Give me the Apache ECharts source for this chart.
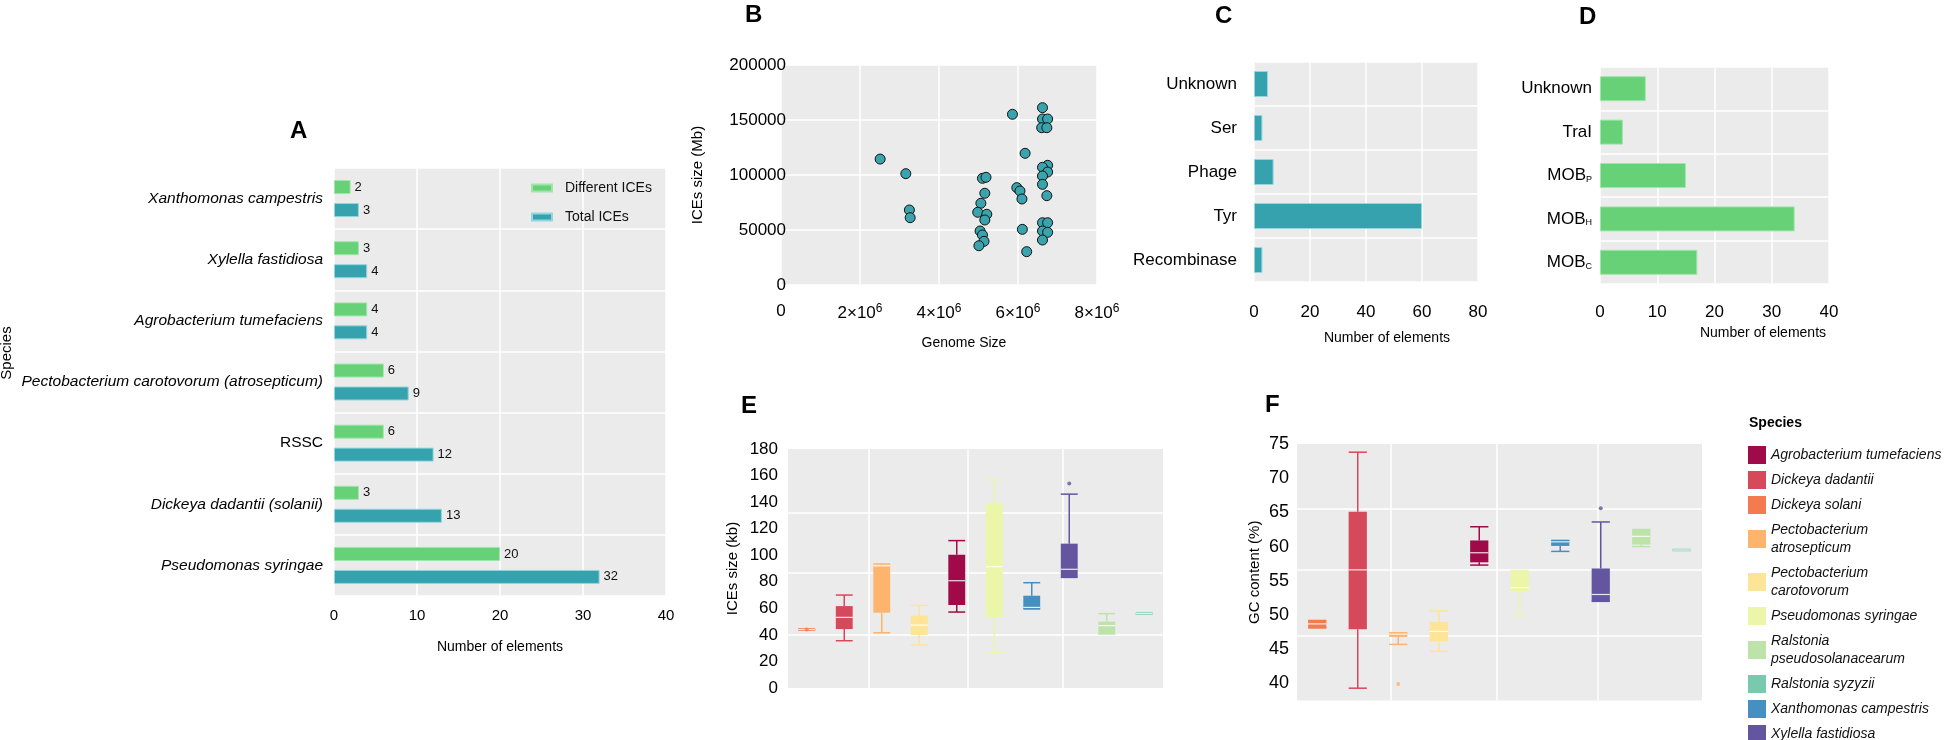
<!DOCTYPE html>
<html><head><meta charset="utf-8">
<script src="https://cdn.jsdelivr.net/npm/echarts@6/dist/echarts.min.js"></script>
<style>html,body{margin:0;padding:0;background:#fff}#c{width:1952px;height:740px}</style>
</head><body><div id="c"></div><script>
// ---------- Panel A ----------
const speciesA = ['Pseudomonas syringae', 'Dickeya dadantii (solanii)', 'RSSC',
  'Pectobacterium carotovorum (atrosepticum)', 'Agrobacterium tumefaciens',
  'Xylella fastidiosa', 'Xanthomonas campestris'];
const differentICEs = [20, 3, 6, 6, 4, 3, 2];
const totalICEs = [32, 13, 12, 9, 4, 4, 3];

// ---------- Panel B ----------
const genomeSize = [2.51e6, 3.16e6, 3.25e6, 3.27e6, 5.86e6, 6.62e6, 6.62e6, 6.75e6, 6.60e6, 6.73e6,
  6.18e6, 6.75e6, 6.62e6, 6.75e6, 6.62e6, 6.62e6, 6.73e6, 5.10e6, 5.19e6, 5.16e6,
  5.06e6, 4.98e6, 5.21e6, 5.16e6, 5.04e6, 5.10e6, 5.14e6, 5.01e6, 5.97e6, 6.05e6,
  6.10e6, 6.11e6, 6.22e6, 6.62e6, 6.75e6, 6.62e6, 6.75e6, 6.62e6];
const iceSizeB = [114500, 101200, 68200, 61200, 155200, 161200, 150900, 150900, 143000, 143000,
  119700, 108800, 107000, 102700, 99100, 91500, 81200, 97000, 97900, 83400,
  74300, 66100, 64300, 59100, 49100, 45500, 39700, 35700, 88500, 85500,
  78200, 50600, 30300, 56600, 56600, 49100, 47900, 40900];

// ---------- Panel C ----------
const integrases = ['Recombinase', 'Tyr', 'Phage', 'Ser', 'Unknown'];
const integraseCounts = [3, 60, 7, 3, 5];

// ---------- Panel D ----------
const relaxases = ['MOBC', 'MOBH', 'MOBP', 'TraI', 'Unknown'];
const relaxaseCounts = [17, 34, 15, 4, 8];

// ---------- Panels E / F ----------
const species = ['Agrobacterium tumefaciens', 'Dickeya dadantii', 'Dickeya solani',
  'Pectobacterium atrosepticum', 'Pectobacterium carotovorum', 'Pseudomonas syringae',
  'Ralstonia pseudosolanacearum', 'Ralstonia syzyzii', 'Xanthomonas campestris', 'Xylella fastidiosa'];
const speciesColors = ['#a00a48', '#d6495a', '#f47a50', '#fdb46c', '#fee496', '#ecf6a8',
  '#bde3aa', '#78c9ad', '#4590c0', '#63559f'];
const boxOrder = ['Dickeya solani', 'Dickeya dadantii', 'Pectobacterium atrosepticum',
  'Pectobacterium carotovorum', 'Agrobacterium tumefaciens', 'Pseudomonas syringae',
  'Xanthomonas campestris', 'Xylella fastidiosa', 'Ralstonia pseudosolanacearum', 'Ralstonia syzyzii'];
// [min, Q1, median, Q3, max] in boxOrder
const iceSizeStats = [
  [44, 44, 44, 44, 44], [35.6, 44.4, 53.2, 61.7, 70], [41.6, 56.7, 92, 92.5, 93.4],
  [32.4, 39.9, 47.4, 54.5, 62.2], [57.2, 62.5, 80.8, 100.4, 111], [26.6, 53.2, 91.4, 139, 157],
  [59.5, 59.5, 60.7, 69.5, 79.3], [83.3, 83.3, 89.4, 108.7, 146], [40.7, 40.7, 47, 50, 56],
  [56, 56, 56, 56, 56]];
const iceSizeOutliers = [[0, 44], [7, 154]];
const gcStats = [
  [48.1, 48.1, 48.7, 49.2, 49.2], [39.3, 47.9, 56.6, 65.1, 73.8], [45.7, 46.8, 47.2, 47.4, 47.4],
  [44.7, 46.1, 47.6, 49.0, 50.6], [57.3, 57.7, 59.1, 60.9, 62.9], [49.9, 53.5, 54.0, 56.5, 56.5],
  [59.3, 60.1, 60.7, 60.9, 60.9], [52.0, 52.0, 53.0, 56.8, 63.6], [60.0, 60.3, 61.5, 62.5, 62.5],
  [59.5, 59.5, 59.5, 59.5, 59.5]];
const gcOutliers = [[2, 39.9], [7, 65.6]];
// background grid-line positions as drawn in the reference
const gridLinesE = { y: [40, 87, 132], x: [2.16, 4.8, 7.33] };
const gridLinesF = { y: [47, 56.6, 65.6], x: [2.32, 4.94, 7.43] };

// ---------- styles ----------
const SANS = "'Liberation Sans', Arial, sans-serif";
const GREEN = '#66d176', TEAL = '#35a2ae';
const BOX_W = 0.45;
const noLine = { axisLine: { show: false }, axisTick: { show: false } };
const whiteSplit = { show: true, lineStyle: { color: '#ffffff', width: 1.5 } };

const chart = echarts.init(document.getElementById('c'), null, { renderer: 'canvas' });

const grids = [
  { left: 334, top: 168, width: 332, height: 428 },
  { left: 781, top: 65, width: 316, height: 220 },
  { left: 1254, top: 62, width: 224, height: 220 },
  { left: 1600, top: 67, width: 229, height: 217 },
  { left: 788, top: 449, width: 375, height: 239 },
  { left: 1297, top: 444, width: 405, height: 256.5 }
].map(g => Object.assign({ show: true, backgroundColor: '#ebebeb', borderWidth: 0,
  containLabel: false, outerBoundsMode: 'none' }, g));

function boxRender(params, api) {
  const x = api.value(0);
  const c = api.visual('color');
  const p = k => api.coord([x, api.value(k)]);
  const pMin = p(1), pQ1 = p(2), pMed = p(3), pQ3 = p(4), pMax = p(5);
  const w = api.size([BOX_W, 0])[0];
  const cx = pMin[0], hw = w / 2;
  const st = { stroke: c, lineWidth: 1.5 };
  const ch = [];
  ch.push({ type: 'line', shape: { x1: cx, y1: pQ3[1], x2: cx, y2: pMax[1] }, style: st });
  ch.push({ type: 'line', shape: { x1: cx, y1: pQ1[1], x2: cx, y2: pMin[1] }, style: st });
  ch.push({ type: 'line', shape: { x1: cx - hw, y1: pMax[1], x2: cx + hw, y2: pMax[1] }, style: st });
  ch.push({ type: 'line', shape: { x1: cx - hw, y1: pMin[1], x2: cx + hw, y2: pMin[1] }, style: st });
  const h = Math.max(pQ1[1] - pQ3[1], 2.5);
  ch.push({ type: 'rect', shape: { x: cx - hw, y: pQ3[1] - (h - (pQ1[1] - pQ3[1])) / 2, width: w, height: h }, style: { fill: c } });
  ch.push({ type: 'line', shape: { x1: cx - hw, y1: pMed[1], x2: cx + hw, y2: pMed[1] }, style: { stroke: '#ffffff', lineWidth: 1.2, opacity: 0.85 } });
  return { type: 'group', children: ch };
}

const barLabel = { show: true, position: 'right', distance: 4, fontSize: 13, color: '#111' };
const series = [
  { type: 'bar', name: 'Different ICEs', xAxisIndex: 0, yAxisIndex: 0, data: differentICEs,
    barWidth: 14, barGap: '64%', itemStyle: { color: GREEN, borderColor: '#9fe6aa', borderWidth: 1 },
    label: barLabel },
  { type: 'bar', name: 'Total ICEs', xAxisIndex: 0, yAxisIndex: 0, data: totalICEs,
    barWidth: 14, itemStyle: { color: TEAL, borderColor: '#93d6de', borderWidth: 1 },
    label: barLabel },
  { type: 'scatter', xAxisIndex: 1, yAxisIndex: 1, symbolSize: 10,
    data: genomeSize.map((g, i) => [g, iceSizeB[i]]),
    itemStyle: { color: '#3aa4ae', borderColor: '#111', borderWidth: 1, opacity: 1 } },
  { type: 'bar', xAxisIndex: 2, yAxisIndex: 2, data: integraseCounts, barWidth: 26,
    itemStyle: { color: TEAL, borderColor: '#93d6de', borderWidth: 1 } },
  { type: 'bar', xAxisIndex: 3, yAxisIndex: 3, data: relaxaseCounts, barWidth: 25,
    itemStyle: { color: GREEN, borderColor: '#9fe6aa', borderWidth: 1 } }
];

function gridLineSeries(ax, gl) {
  return { type: 'line', xAxisIndex: ax, yAxisIndex: ax, data: [], silent: true, z: 1,
    markLine: { silent: true, symbol: 'none', z: 1, animation: false,
      lineStyle: { color: '#ffffff', width: 1.5, type: 'solid' }, label: { show: false },
      data: gl.y.map(v => ({ yAxis: v })).concat(gl.x.map(v => ({ xAxis: v }))) } };
}
series.push(gridLineSeries(4, gridLinesE));
series.push(gridLineSeries(5, gridLinesF));

function addBoxes(ax, stats, outliers) {
  boxOrder.forEach((s, i) => {
    const color = speciesColors[species.indexOf(s)];
    series.push({ type: 'custom', name: s, xAxisIndex: ax, yAxisIndex: ax, z: 3,
      renderItem: boxRender, itemStyle: { color: color },
      encode: { x: 0, y: [1, 2, 3, 4, 5] },
      data: [[i + 0.5].concat(stats[i])] });
    const outs = outliers.filter(o => o[0] === i);
    if (outs.length) {
      series.push({ type: 'scatter', name: s, xAxisIndex: ax, yAxisIndex: ax, z: 4, symbolSize: 4,
        itemStyle: { color: color }, data: outs.map(o => [o[0] + 0.5, o[1]]) });
    }
  });
}
addBoxes(4, iceSizeStats, iceSizeOutliers);
addBoxes(5, gcStats, gcOutliers);

const legendNames = {
  'Pectobacterium atrosepticum': 'Pectobacterium\natrosepticum',
  'Pectobacterium carotovorum': 'Pectobacterium\ncarotovorum',
  'Ralstonia pseudosolanacearum': 'Ralstonia\npseudosolanacearum'
};

const letter = (t, l, tp) => ({ text: t, left: l, top: tp, padding: 0,
  textStyle: { fontFamily: SANS, fontSize: 24, fontWeight: 'bold', color: '#000' } });

const option = {
  animation: false,
  backgroundColor: '#ffffff',
  textStyle: { fontFamily: SANS },
  title: [
    letter('A', 290, 119), letter('B', 745, 3), letter('C', 1215, 4), letter('D', 1579, 5),
    letter('E', 741, 394), letter('F', 1265, 393),
    { text: 'Species', left: 1749, top: 416, padding: 0,
      textStyle: { fontFamily: SANS, fontSize: 14, fontWeight: 'bold', color: '#000' } }
  ],
  legend: [
    { data: ['Different ICEs', 'Total ICEs'], orient: 'vertical', left: 531, top: 181, padding: 0,
      icon: 'rect', itemWidth: 20, itemHeight: 7, itemGap: 15, selectedMode: false,
      textStyle: { fontSize: 14, color: '#111', padding: [0, 0, 0, 8] } },
    { data: species, orient: 'vertical', left: 1748, top: 446, width: 200, height: 320, padding: 0, icon: 'rect',
      itemWidth: 18, itemHeight: 18, itemGap: 7, selectedMode: false,
      formatter: n => legendNames[n] || n,
      textStyle: { fontSize: 14, fontStyle: 'italic', color: '#111', lineHeight: 18 } }
  ],
  grid: grids,
  xAxis: [
    Object.assign({ gridIndex: 0, type: 'value', min: 0, max: 40, interval: 10,
      axisLabel: { fontSize: 15, color: '#000', margin: 12 },
      splitLine: whiteSplit, name: 'Number of elements', nameLocation: 'middle', nameGap: 44,
      nameTextStyle: { fontSize: 14, color: '#000' } }, noLine),
    Object.assign({ gridIndex: 1, type: 'value', min: 0, max: 8e6, interval: 2e6,
      axisLabel: { fontSize: 17, color: '#000', margin: 18,
        formatter: v => v === 0 ? '0' : (v / 1e6) + '×10{sup|6}',
        rich: { sup: { fontSize: 12, verticalAlign: 'top', padding: [0, 0, 8, 0], color: '#000' } } },
      splitLine: whiteSplit, name: 'Genome Size', nameLocation: 'middle', nameGap: 51,
      nameTextStyle: { fontSize: 14, color: '#000', padding: [0, 0, 0, 50] } }, noLine),
    Object.assign({ gridIndex: 2, type: 'value', min: 0, max: 80, interval: 20,
      axisLabel: { fontSize: 17, color: '#000', margin: 22 },
      splitLine: whiteSplit, name: 'Number of elements', nameLocation: 'middle', nameGap: 49,
      nameTextStyle: { fontSize: 14, color: '#000', padding: [0, 0, 0, 42] } }, noLine),
    Object.assign({ gridIndex: 3, type: 'value', min: 0, max: 40, interval: 10,
      axisLabel: { fontSize: 17, color: '#000', margin: 20 },
      splitLine: whiteSplit, name: 'Number of elements', nameLocation: 'middle', nameGap: 42,
      nameTextStyle: { fontSize: 14, color: '#000', padding: [0, 0, 0, 97] } }, noLine),
    { gridIndex: 4, type: 'value', min: 0, max: 10, show: false },
    { gridIndex: 5, type: 'value', min: 0, max: 10, show: false }
  ],
  yAxis: [
    Object.assign({ gridIndex: 0, type: 'category', data: speciesA,
      axisLabel: { fontSize: 15.5, fontStyle: 'italic', color: '#000', margin: 11,
        formatter: v => v === 'RSSC' ? '{n|RSSC}' : v,
        rich: { n: { fontStyle: 'normal', fontSize: 15.5, color: '#000' } } },
      splitLine: whiteSplit, name: 'Species', nameLocation: 'middle', nameGap: 320,
      nameTextStyle: { fontSize: 15, color: '#000', padding: [0, 0, 0, 58] } }, noLine),
    Object.assign({ gridIndex: 1, type: 'value', min: 0, max: 200000, interval: 50000,
      axisLabel: { fontSize: 17, color: '#000', margin: -5, formatter: v => String(v) },
      splitLine: whiteSplit, name: 'ICEs size (Mb)', nameLocation: 'middle', nameGap: 76,
      nameTextStyle: { fontSize: 15, color: '#000' } }, noLine),
    Object.assign({ gridIndex: 2, type: 'category', data: integrases,
      axisLabel: { fontSize: 17, color: '#000', margin: 17 }, splitLine: whiteSplit }, noLine),
    Object.assign({ gridIndex: 3, type: 'category', data: relaxases,
      axisLabel: { fontSize: 17, color: '#000', margin: 8,
        formatter: v => v.startsWith('MOB') ? 'MOB{sub|' + v.slice(3) + '}' : v,
        rich: { sub: { fontSize: 9, verticalAlign: 'bottom', padding: [8, 0, 0, 0], color: '#000' } } },
      splitLine: whiteSplit }, noLine),
    Object.assign({ gridIndex: 4, type: 'value', min: 0, max: 180, interval: 20,
      axisLabel: { fontSize: 17, color: '#000', margin: 10 }, splitLine: { show: false },
      name: 'ICEs size (kb)', nameLocation: 'middle', nameGap: 48,
      nameTextStyle: { fontSize: 15, color: '#000' } }, noLine),
    Object.assign({ gridIndex: 5, type: 'value', min: 37.5, max: 75, interval: 2.5,
      axisLabel: { fontSize: 18, color: '#000', margin: 8, formatter: v => (v % 5 === 0 ? String(v) : '') },
      splitLine: { show: false }, name: 'GC content (%)', nameLocation: 'middle', nameGap: 35,
      nameTextStyle: { fontSize: 15, color: '#000' } }, noLine)
  ],
  series: series
};
chart.setOption(option);
</script></body></html>
